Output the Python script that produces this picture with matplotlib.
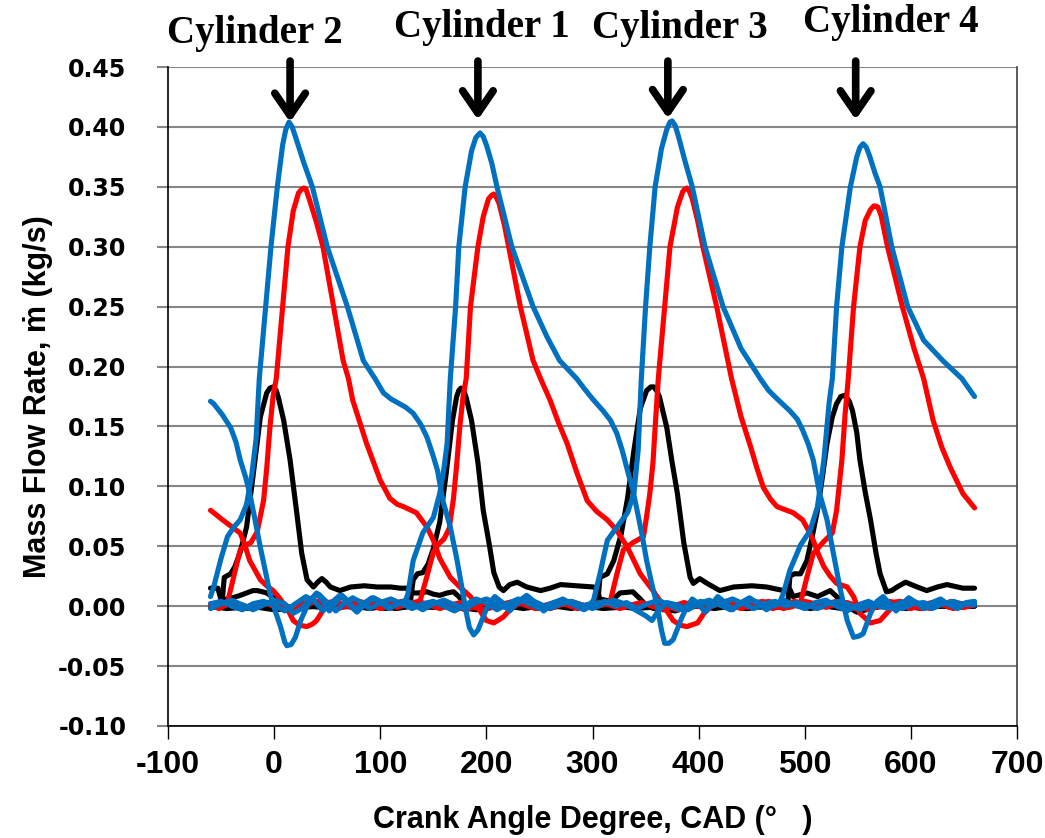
import matplotlib
matplotlib.use("Agg")
import matplotlib.pyplot as plt
from matplotlib import font_manager
from matplotlib.font_manager import FontProperties

# ---- data: (CAD, mass flow kg/s) ----
blue_c2 = [(-60, 0.008), (-57, 0.016), (-50, 0.040), (-44, 0.058), (-38, 0.066), (-32, 0.072),
           (-26, 0.085), (-21, 0.110), (-17, 0.140), (-14, 0.190), (-8, 0.250), (-3, 0.300),
           (3, 0.350), (8, 0.385), (11, 0.398), (14, 0.404), (17, 0.400), (20, 0.392),
           (24, 0.381), (28, 0.370), (36, 0.350),
           (50, 0.300), (69, 0.250), (84, 0.205), (95, 0.190), (103, 0.178), (110, 0.173),
           (116, 0.170), (124, 0.166), (131, 0.161), (138, 0.152), (144, 0.141), (150, 0.125),
           (154, 0.113), (159, 0.088), (166, 0.066), (172, 0.040), (177, 0.015), (181, -0.005),
           (184, -0.018), (188, -0.024), (192, -0.020), (197, -0.009), (202, 0.002), (208, 0.008),
           (215, 0.003), (222, -0.004), (230, 0.004), (238, 0.009), (246, 0.003), (254, -0.004),
           (262, 0.002), (272, 0.006), (282, 0.001), (292, -0.003), (302, 0.002), (312, 0.004),
           (322, 0.000), (332, 0.003), (342, -0.002), (352, 0.002), (362, 0.005), (372, 0.001),
           (382, -0.003), (392, 0.001), (402, 0.004), (412, 0.000), (422, 0.003), (432, 0.006),
           (442, 0.002), (452, -0.002), (462, 0.002), (472, 0.004), (482, 0.000), (492, 0.003),
           (502, 0.001), (512, -0.002), (522, 0.002), (532, 0.004), (542, 0.001), (552, -0.003),
           (562, 0.001), (572, 0.004), (582, 0.001), (592, -0.002), (602, 0.002), (612, 0.003),
           (622, 0.000), (632, 0.003), (642, 0.001), (652, 0.002), (660, 0.001)]

blue_c1 = [(-60, 0.002), (-50, 0.004), (-40, 0.000), (-30, -0.003), (-20, 0.002), (-10, 0.004),
           (0, 0.001), (10, -0.004), (20, 0.002), (30, 0.008), (38, 0.004), (46, -0.004),
           (54, 0.003), (62, 0.009), (70, 0.002), (78, -0.005), (86, 0.002), (94, 0.007),
           (102, 0.003), (110, -0.001), (118, 0.002), (123, 0.003), (126, 0.010), (131, 0.038),
           (140, 0.061), (150, 0.074), (156, 0.094), (160, 0.115), (163, 0.136), (166, 0.190),
           (171, 0.250), (174, 0.300), (180, 0.350), (186, 0.380), (190, 0.391), (194, 0.395),
           (197, 0.392), (200, 0.385),
           (205, 0.370), (210, 0.350), (224, 0.300), (244, 0.250), (257, 0.225), (269, 0.205),
           (285, 0.190), (291, 0.183), (300, 0.173), (310, 0.163), (317, 0.155), (323, 0.144),
           (328, 0.130), (333, 0.113), (338, 0.097), (342, 0.080), (347, 0.058), (351, 0.038),
           (356, 0.018), (361, 0.000), (365, -0.020), (368, -0.031), (372, -0.031), (376, -0.028),
           (380, -0.019), (383, -0.012), (388, -0.002), (394, 0.006), (400, 0.002), (406, -0.005),
           (412, 0.001), (418, 0.008), (425, 0.003), (432, -0.003), (440, 0.003), (448, 0.007),
           (456, 0.002), (464, -0.003), (472, 0.002), (480, 0.005), (490, 0.001), (500, -0.002),
           (510, 0.003), (520, 0.005), (530, 0.000), (540, -0.004), (550, 0.001), (560, 0.004),
           (570, 0.000), (580, -0.002), (590, 0.003), (600, 0.005), (610, 0.001), (620, -0.002),
           (630, 0.002), (640, 0.004), (650, 0.001), (660, 0.003)]

blue_c3 = [(-60, -0.002), (-50, 0.002), (-40, 0.005), (-30, 0.001), (-20, -0.003), (-10, 0.001),
           (0, 0.005), (10, 0.002), (18, -0.006), (26, -0.002), (34, 0.006), (42, 0.010),
           (50, 0.003), (58, -0.004), (66, 0.002), (74, 0.007), (82, 0.003), (90, -0.002),
           (100, 0.003), (110, 0.006), (120, 0.002), (130, -0.002), (140, 0.002), (150, 0.004),
           (160, 0.000), (170, -0.004), (180, 0.001), (190, 0.006), (200, 0.003), (210, -0.003),
           (220, 0.002), (230, 0.006), (240, 0.002), (250, -0.002), (260, 0.002), (270, 0.005),
           (280, 0.002), (290, 0.000), (298, 0.002), (301, 0.005), (307, 0.027), (314, 0.055),
           (323, 0.066), (333, 0.078), (339, 0.094), (343, 0.130), (346, 0.190), (350, 0.250),
           (354, 0.300), (359, 0.350), (365, 0.382), (370, 0.398), (373, 0.404), (375, 0.405),
           (378, 0.401), (381, 0.392),
           (387, 0.372), (394, 0.350), (406, 0.300), (423, 0.250), (440, 0.215), (458, 0.190),
           (466, 0.180), (474, 0.173), (486, 0.163), (493, 0.156), (498, 0.147), (503, 0.136),
           (508, 0.122), (514, 0.094), (521, 0.072), (527, 0.044), (533, 0.016), (537, 0.000),
           (540, -0.012), (546, -0.026), (551, -0.025), (555, -0.023), (562, -0.006), (568, 0.004),
           (574, 0.008), (580, 0.002), (586, -0.004), (592, 0.002), (598, 0.007), (605, 0.003),
           (612, -0.002), (620, 0.003), (628, 0.006), (636, 0.001), (644, -0.002), (652, 0.003),
           (660, 0.004)]

blue_c4 = [(-60, 0.171), (-57, 0.169), (-49, 0.160), (-41, 0.149), (-36, 0.137), (-32, 0.122),
           (-27, 0.108), (-23, 0.094), (-18, 0.072), (-13, 0.049), (-8, 0.028), (-4, 0.011),
           (1, -0.004), (6, -0.017), (10, -0.030), (12, -0.033), (16, -0.032), (20, -0.026),
           (25, -0.012), (30, -0.002), (35, 0.006), (40, 0.011), (46, 0.004), (52, -0.004),
           (58, 0.003), (64, 0.009), (70, 0.004), (76, -0.003), (84, 0.002), (92, 0.007),
           (100, 0.003), (108, -0.002), (116, 0.002), (124, 0.005), (132, 0.001), (140, -0.003),
           (150, 0.002), (160, 0.005), (170, 0.001), (180, -0.002), (190, 0.003), (200, 0.006),
           (210, 0.002), (220, -0.002), (230, 0.003), (240, 0.006), (250, 0.002), (260, -0.002),
           (270, 0.002), (280, 0.004), (290, 0.001), (300, -0.002), (310, 0.002), (320, 0.005),
           (330, 0.002), (340, -0.003), (350, -0.008), (356, -0.012), (362, -0.004), (370, 0.003),
           (380, 0.001), (390, -0.003), (400, 0.002), (410, 0.005), (420, 0.001), (430, -0.003),
           (440, 0.002), (450, 0.005), (460, 0.002), (470, 0.000), (476, 0.002), (480, 0.011),
           (486, 0.030), (496, 0.051), (505, 0.063), (512, 0.083), (518, 0.122), (523, 0.170),
           (526, 0.190), (530, 0.250), (535, 0.300), (543, 0.350), (549, 0.375), (552, 0.383),
           (555, 0.386), (558, 0.383), (561, 0.376), (566, 0.362), (571, 0.350), (582, 0.300),
           (597, 0.250), (612, 0.222), (630, 0.205), (648, 0.190), (660, 0.175)]

red_c2 = [(-60, 0.001), (-52, -0.002), (-44, 0.003), (-38, 0.025), (-32, 0.047), (-27, 0.051),
          (-22, 0.053), (-16, 0.062), (-10, 0.088), (-7, 0.115), (-4, 0.149), (-1, 0.175),
          (2, 0.190), (8, 0.250), (13, 0.300), (18, 0.330), (23, 0.345), (26, 0.348),
          (28, 0.349), (30, 0.348), (33, 0.340), (40, 0.320), (46, 0.300), (56, 0.250),
          (65, 0.205), (70, 0.190),
          (74, 0.172), (87, 0.136), (100, 0.105), (109, 0.090), (116, 0.085), (122, 0.083),
          (134, 0.078), (144, 0.066), (150, 0.055), (156, 0.040), (166, 0.024), (175, 0.016),
          (185, 0.008), (191, 0.000), (200, -0.012), (207, -0.014), (216, -0.009), (222, -0.003),
          (230, 0.002), (240, 0.004), (250, 0.001), (260, -0.002), (270, 0.002), (280, 0.004),
          (290, 0.001), (300, -0.001), (310, 0.002), (320, 0.004), (330, 0.001), (340, -0.002),
          (350, 0.001), (360, 0.003), (370, 0.000), (380, -0.003), (390, 0.000), (400, 0.003),
          (410, 0.004), (420, 0.001), (430, -0.002), (440, 0.002), (450, 0.004), (460, 0.001),
          (470, -0.002), (480, 0.001), (490, 0.004), (500, 0.002), (510, -0.001), (520, 0.002),
          (530, 0.004), (540, 0.001), (550, -0.003), (560, -0.001), (570, 0.002), (580, 0.004),
          (590, 0.001), (600, -0.002), (610, 0.001), (620, 0.003), (630, 0.001), (640, -0.002),
          (650, 0.001), (660, 0.002)]

red_c1 = [(-60, 0.002), (-50, -0.001), (-40, 0.003), (-30, 0.001), (-20, -0.002), (-10, 0.002),
          (0, 0.004), (10, 0.001), (20, -0.003), (30, 0.001), (40, 0.004), (50, 0.002),
          (60, -0.002), (70, 0.001), (80, 0.004), (90, 0.002), (100, -0.001), (110, 0.002),
          (120, 0.003), (130, 0.001), (135, 0.002), (138, 0.006), (144, 0.025), (150, 0.045),
          (155, 0.052), (160, 0.056), (165, 0.065), (169, 0.090), (172, 0.118), (175, 0.150),
          (178, 0.175), (181, 0.190), (185, 0.250), (192, 0.300), (197, 0.325), (202, 0.340),
          (205, 0.343), (207, 0.344), (209, 0.342),
          (212, 0.336), (217, 0.318), (221, 0.300), (232, 0.250), (244, 0.205),
          (251, 0.190), (260, 0.172), (268, 0.153), (276, 0.136), (285, 0.112), (295, 0.088),
          (304, 0.079), (314, 0.072), (323, 0.063), (333, 0.049), (345, 0.027), (357, 0.013),
          (367, 0.000), (376, -0.012), (383, -0.016), (389, -0.017), (399, -0.014), (405, -0.006),
          (412, 0.000), (420, 0.003), (430, 0.001), (440, -0.002), (450, 0.002), (460, 0.004),
          (470, 0.001), (480, -0.002), (490, 0.001), (500, 0.004), (510, 0.002), (520, -0.001),
          (530, 0.002), (540, 0.003), (550, 0.000), (560, -0.003), (570, 0.000), (580, 0.003),
          (590, 0.004), (600, 0.001), (610, -0.002), (620, 0.001), (630, 0.003), (640, 0.001),
          (650, -0.001), (660, 0.001)]

red_c3 = [(-60, 0.000), (-50, 0.003), (-40, 0.001), (-30, -0.002), (-20, 0.001), (-10, 0.003),
          (0, 0.000), (10, -0.003), (20, 0.000), (30, 0.003), (40, 0.004), (50, 0.001),
          (60, -0.002), (70, 0.001), (80, 0.003), (90, 0.001), (100, -0.002), (110, 0.001),
          (120, 0.004), (130, 0.002), (140, -0.001), (150, 0.001), (160, 0.003), (170, 0.000),
          (180, -0.003), (190, 0.000), (200, 0.003), (210, 0.002), (220, -0.001), (230, 0.002),
          (240, 0.004), (250, 0.001), (260, -0.002), (270, 0.001), (280, 0.003), (290, 0.001),
          (300, -0.001), (310, 0.001), (317, 0.005), (323, 0.027), (329, 0.047), (338, 0.053),
          (348, 0.058), (351, 0.075), (354, 0.094), (357, 0.120), (359, 0.149), (362, 0.190),
          (365, 0.220), (368, 0.250), (373, 0.300), (380, 0.333), (385, 0.346), (387, 0.348),
          (389, 0.349), (391, 0.347), (394, 0.340), (399, 0.322), (404, 0.300), (417, 0.250),
          (431, 0.190), (440, 0.158),
          (449, 0.133), (455, 0.115), (461, 0.099), (468, 0.089), (474, 0.083), (489, 0.078),
          (498, 0.072), (503, 0.064), (508, 0.055), (513, 0.043), (518, 0.033), (524, 0.025),
          (530, 0.019), (540, 0.016), (546, 0.008), (552, -0.006), (562, -0.014), (571, -0.012),
          (580, -0.003), (588, 0.002), (598, 0.004), (608, 0.001), (618, -0.002), (628, 0.001),
          (638, 0.004), (648, 0.002), (660, 0.003)]

red_c4 = [(-60, 0.080), (-57, 0.078), (-50, 0.073), (-44, 0.069), (-38, 0.065), (-32, 0.061),
          (-28, 0.052), (-23, 0.038), (-18, 0.030), (-13, 0.022), (-7, 0.017), (-1, 0.013),
          (4, 0.008), (9, 0.002), (14, -0.005), (18, -0.012), (24, -0.016), (31, -0.017),
          (36, -0.015), (40, -0.012), (45, -0.005), (50, 0.003), (58, 0.004), (66, 0.001),
          (76, -0.002), (86, 0.001), (96, 0.004), (106, 0.002), (116, -0.001), (126, 0.002),
          (136, 0.004), (146, 0.001), (156, -0.002), (166, 0.001), (176, 0.003), (186, 0.000),
          (196, -0.003), (206, -0.001), (216, 0.002), (226, 0.004), (236, 0.001), (246, -0.002),
          (256, 0.001), (266, 0.003), (276, 0.001), (286, -0.002), (296, 0.001), (306, 0.003),
          (316, 0.001), (326, -0.002), (336, 0.001), (346, 0.003), (356, 0.000), (366, -0.003),
          (376, 0.000), (386, 0.003), (396, 0.001), (406, -0.002), (416, 0.001), (426, 0.004),
          (436, 0.002), (446, -0.001), (456, 0.002), (466, 0.004), (476, 0.001), (486, -0.001),
          (493, 0.001), (496, 0.003), (502, 0.024), (508, 0.044), (518, 0.054), (526, 0.061),
          (530, 0.080), (535, 0.122), (538, 0.160), (541, 0.190), (546, 0.250), (552, 0.300),
          (557, 0.322), (562, 0.331), (565, 0.334), (567, 0.334), (569, 0.333), (572, 0.326),
          (578, 0.300), (592, 0.250),
          (603, 0.215), (612, 0.190), (621, 0.155), (629, 0.133), (637, 0.116), (649, 0.094),
          (660, 0.082)]

black_c2 = [(-60, 0.001), (-54, 0.002), (-49, 0.004), (-47, 0.024), (-41, 0.027), (-37, 0.033),
            (-32, 0.045), (-26, 0.066), (-20, 0.108), (-13, 0.158), (-7, 0.178), (-4, 0.182),
            (-1, 0.183), (2, 0.180),
            (4, 0.174), (9, 0.155), (15, 0.122), (21, 0.080), (26, 0.044), (31, 0.022),
            (37, 0.016), (41, 0.020), (45, 0.023), (49, 0.020), (53, 0.016), (62, 0.013),
            (72, 0.016), (85, 0.017), (97, 0.016), (110, 0.016), (119, 0.015), (126, 0.015),
            (129, 0.011), (136, 0.011), (144, 0.012), (150, 0.010), (156, 0.009), (163, 0.011),
            (169, 0.012), (174, 0.008), (178, 0.004), (182, 0.000), (188, -0.002), (195, -0.003),
            (202, -0.001), (210, 0.001), (220, -0.001), (235, 0.001), (250, -0.002), (265, 0.000),
            (280, -0.002), (295, 0.001), (310, -0.001), (325, 0.000), (340, -0.002), (355, -0.001),
            (370, -0.003), (385, -0.001), (400, 0.001), (415, -0.001), (430, 0.000), (445, -0.002),
            (460, 0.000), (475, -0.001), (490, 0.001), (505, -0.001), (520, 0.000), (535, -0.002),
            (550, -0.001), (565, 0.001), (580, -0.001), (595, 0.000), (610, -0.002), (625, 0.000),
            (640, 0.001), (660, 0.000)]

black_c1 = [(-60, -0.001), (-45, 0.001), (-30, -0.002), (-15, -0.001), (0, -0.003), (15, -0.002),
            (30, 0.000), (45, -0.001), (60, 0.001), (75, -0.001), (90, 0.000), (105, -0.002),
            (120, 0.000), (128, 0.001), (131, 0.022), (135, 0.027), (140, 0.028), (145, 0.035),
            (150, 0.048), (156, 0.070), (162, 0.110), (168, 0.155), (172, 0.175), (174, 0.180),
            (176, 0.182), (179, 0.179),
            (181, 0.174), (186, 0.155), (192, 0.120), (197, 0.080), (203, 0.050), (207, 0.028),
            (212, 0.016), (216, 0.013), (222, 0.018), (229, 0.020), (238, 0.016), (251, 0.013),
            (260, 0.015), (270, 0.018), (285, 0.017), (301, 0.016), (304, 0.014), (307, 0.006),
            (317, 0.004), (326, 0.011), (338, 0.012), (345, 0.006), (351, 0.000), (358, -0.002),
            (368, -0.003), (378, -0.004), (388, -0.001), (400, 0.001), (415, -0.001), (430, 0.000),
            (445, -0.002), (460, 0.000), (475, -0.001), (490, 0.001), (505, -0.002), (520, 0.000),
            (535, -0.001), (550, -0.003), (565, -0.001), (580, 0.000), (595, -0.002), (610, 0.000),
            (625, 0.001), (640, -0.001), (660, 0.000)]

black_c3 = [(-60, 0.000), (-45, -0.002), (-30, -0.001), (-15, 0.001), (0, -0.002), (15, -0.003),
            (30, -0.001), (45, 0.001), (60, -0.001), (75, 0.000), (90, -0.002), (105, 0.000),
            (120, -0.001), (135, 0.001), (150, -0.001), (165, 0.000), (180, -0.002), (195, -0.001),
            (210, 0.001), (225, -0.001), (240, 0.000), (255, -0.002), (270, 0.000), (285, -0.001),
            (300, 0.001), (305, 0.003), (307, 0.024), (314, 0.027), (320, 0.038), (327, 0.060),
            (333, 0.090), (339, 0.130), (345, 0.165), (351, 0.180), (355, 0.183), (358, 0.183),
            (361, 0.179), (363, 0.175),
            (370, 0.149), (375, 0.120), (380, 0.094), (386, 0.053), (392, 0.024), (395, 0.019),
            (401, 0.023), (408, 0.019), (420, 0.013), (433, 0.016), (450, 0.017), (464, 0.016),
            (480, 0.013), (486, 0.014), (489, 0.008), (502, 0.011), (512, 0.008), (524, 0.013),
            (530, 0.008), (540, 0.000), (549, -0.005), (558, -0.003), (570, 0.000), (585, -0.001),
            (600, 0.001), (615, -0.001), (630, 0.000), (645, -0.001), (660, 0.001)]

black_c4 = [(-60, 0.015), (-53, 0.015), (-50, 0.005), (-44, 0.006), (-39, 0.007), (-32, 0.009),
            (-26, 0.011), (-20, 0.013), (-16, 0.013), (-11, 0.012), (-7, 0.011), (-2, 0.008),
            (3, 0.005), (9, 0.001), (15, -0.001), (21, -0.003), (26, -0.001), (31, 0.002),
            (40, 0.000), (55, -0.001), (70, 0.001), (85, -0.001), (100, 0.000), (115, -0.002),
            (130, 0.000), (145, -0.001), (160, 0.001), (175, -0.001), (190, -0.003), (205, -0.001),
            (220, 0.000), (235, -0.002), (250, 0.000), (265, 0.001), (280, -0.001), (295, 0.000),
            (310, -0.002), (325, -0.001), (340, 0.001), (355, -0.001), (370, -0.003), (385, -0.001),
            (400, 0.000), (415, -0.002), (430, 0.000), (445, 0.001), (460, -0.001), (475, 0.000),
            (484, 0.002), (486, 0.025), (490, 0.027), (496, 0.027), (502, 0.038), (507, 0.058),
            (512, 0.080), (517, 0.110), (521, 0.136), (526, 0.158), (530, 0.169), (534, 0.175),
            (538, 0.176), (542, 0.171),
            (545, 0.163), (549, 0.145), (552, 0.122), (557, 0.095), (562, 0.072), (567, 0.045),
            (571, 0.027), (577, 0.012), (582, 0.013), (587, 0.016), (595, 0.020), (606, 0.016),
            (615, 0.013), (625, 0.016), (634, 0.018), (649, 0.015), (660, 0.015)]

cylinder_labels = ["Cylinder 2", "Cylinder 1", "Cylinder 3", "Cylinder 4"]
label_cad = [-18, 196, 382, 581]
label_y = [0.478, 0.483, 0.482, 0.487]
arrow_cad = [15, 192, 371, 548]
arrow_tip = [0.404, 0.406, 0.407, 0.406]

x_ticks = [-100, 0, 100, 200, 300, 400, 500, 600, 700]
y_ticks = [-0.10, -0.05, 0.00, 0.05, 0.10, 0.15, 0.20, 0.25, 0.30, 0.35, 0.40, 0.45]

# ---- fonts ----
names = {f.name for f in font_manager.fontManager.ttflist}
sans = "Liberation Sans" if "Liberation Sans" in names else "DejaVu Sans"
serif = "Liberation Serif" if "Liberation Serif" in names else "DejaVu Serif"
ytick_font = FontProperties(family="DejaVu Sans", weight="bold", size=17)
xtick_font = FontProperties(family=sans, weight="bold", size=23)

fig = plt.figure(figsize=(10.45, 8.38), dpi=100)
ax = fig.add_axes([0.1608, 0.1337, 0.8124, 0.7863])

series = [(black_c2, "#000000"), (black_c1, "#000000"), (black_c3, "#000000"), (black_c4, "#000000"),
          (red_c2, "#FF0000"), (red_c1, "#FF0000"), (red_c3, "#FF0000"), (red_c4, "#FF0000"),
          (blue_c2, "#0070C0"), (blue_c1, "#0070C0"), (blue_c3, "#0070C0"), (blue_c4, "#0070C0")]
for pts, col in series:
    xs = [p[0] for p in pts]
    ys = [p[1] for p in pts]
    ax.plot(xs, ys, color=col, lw=3.7, solid_joinstyle="round", solid_capstyle="round", zorder=3)

ax.set_xlim(-100, 700)
ax.set_ylim(-0.10, 0.45)
ax.set_xticks(x_ticks)
ax.set_yticks(y_ticks)
ax.set_xticklabels([str(v) for v in x_ticks], fontproperties=xtick_font)
ax.set_yticklabels(["%.2f" % v for v in y_ticks], fontproperties=ytick_font)

ax.grid(axis="y", color="#868686", lw=1.5, zorder=0)
ax.set_axisbelow(True)
ax.spines["top"].set_visible(False)
ax.spines["right"].set_color("#404040")
ax.spines["left"].set_color("black")
ax.spines["bottom"].set_color("black")
for s in ("left", "bottom", "right"):
    ax.spines[s].set_linewidth(1.2)

ax.tick_params(axis="y", length=8, color="#868686", width=1.5, pad=22)
ax.tick_params(axis="x", length=9, color="black", width=1.0, pad=8)

ax.set_xlabel("Crank Angle Degree, CAD (\u00b0   )", family=[sans, "DejaVu Sans"],
              fontweight="bold", fontsize=22, labelpad=18)
ax.set_ylabel("Mass Flow Rate, \u1e41 (kg/s)", family=[sans, "DejaVu Sans"],
              fontweight="bold", fontsize=22, labelpad=4)

for lab, lx, ly, axx, tip in zip(cylinder_labels, label_cad, label_y, arrow_cad, arrow_tip):
    ax.text(lx, ly, lab, family=serif, fontweight="bold", fontsize=28,
            ha="center", va="center", clip_on=False)
    ax.annotate("", xy=(axx, tip), xytext=(axx, 0.455), annotation_clip=False,
                arrowprops=dict(arrowstyle="->, head_length=0.8, head_width=0.55",
                                mutation_scale=20, lw=5.5, color="black",
                                shrinkA=0, shrinkB=0))

fig.savefig("out.png", dpi=100)
